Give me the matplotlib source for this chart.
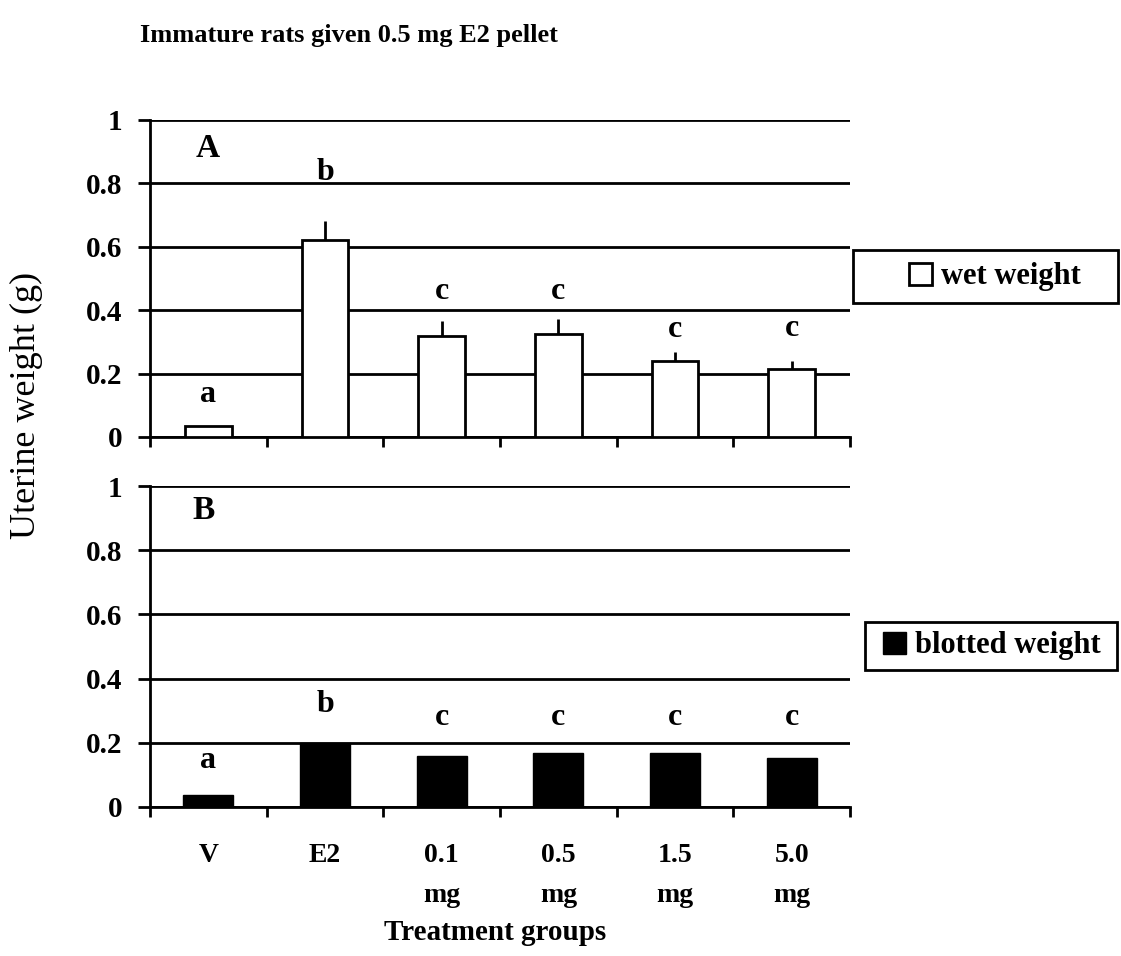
import matplotlib.pyplot as plt
import matplotlib.patches as mpatches
import numpy as np

plt.rcParams['font.family'] = ['Liberation Serif', 'DejaVu Serif']

groups = ['V', 'E2', '0.1\nmg', '0.5\nmg', '1.5\nmg', '5.0\nmg']
wet = [0.035, 0.62, 0.32, 0.325, 0.24, 0.216]
wet_err = [0.0, 0.06, 0.045, 0.047, 0.027, 0.025]
wet_letters = ['a', 'b', 'c', 'c', 'c', 'c']
blotted = [0.037, 0.20, 0.16, 0.168, 0.168, 0.153]
blotted_letters = ['a', 'b', 'c', 'c', 'c', 'c']

# where the significance letters sit (data units)
wet_letter_y = [0.133, 0.835, 0.46, 0.46, 0.34, 0.343]
blotted_letter_y = [0.146, 0.32, 0.28, 0.28, 0.28, 0.28]

fig = plt.figure(figsize=(11.21, 9.56), dpi=100)
axA = fig.add_axes([0.1338, 0.5429, 0.6245, 0.3316])
axB = fig.add_axes([0.1338, 0.1559, 0.6245, 0.3357])

x = np.arange(len(groups)) + 0.5
LW = 2.0


def style(ax):
    ax.set_xlim(0, len(groups))
    ax.set_ylim(0, 1)
    ax.set_yticks([0, 0.2, 0.4, 0.6, 0.8, 1.0])
    ax.set_yticklabels(['0', '0.2', '0.4', '0.6', '0.8', '1'],
                       fontsize=21, fontweight='bold')
    ax.yaxis.grid(True, color='black', linewidth=LW)
    ax.set_axisbelow(True)
    for s in ('top', 'right'):
        ax.spines[s].set_visible(False)
    ax.spines['left'].set_linewidth(LW)
    ax.spines['bottom'].set_linewidth(LW)
    ax.tick_params(axis='y', length=9, width=LW, pad=11)
    ax.set_xticks(np.arange(len(groups) + 1), minor=True)
    ax.tick_params(axis='x', which='minor', length=7, width=LW, direction='out')
    ax.tick_params(axis='x', which='major', length=0)


# panel A: wet weight
axA.bar(x, wet, width=0.4, color='white', edgecolor='black', linewidth=LW,
        yerr=[np.zeros(len(wet)), wet_err], capsize=0,
        error_kw=dict(elinewidth=LW, ecolor='black'), label='wet weight', zorder=3)
style(axA)
axA.set_xticks(x)
axA.set_xticklabels([])
for xi, ly, t in zip(x, wet_letter_y, wet_letters):
    axA.text(xi, ly, t, ha='center', va='center', fontsize=23, fontweight='bold')
axA.text(0.083, 0.91, 'A', transform=axA.transAxes, ha='center', va='center',
         fontsize=24, fontweight='bold')

# panel B: blotted weight
axB.bar(x, blotted, width=0.43, color='black', edgecolor='black', linewidth=1.0,
        label='blotted weight', zorder=3)
style(axB)
axB.set_xticks(x)
axB.set_xticklabels(groups, fontsize=20, fontweight='bold', linespacing=1.8)
axB.tick_params(axis='x', which='major', pad=26)
for xi, ly, t in zip(x, blotted_letter_y, blotted_letters):
    axB.text(xi, ly, t, ha='center', va='center', fontsize=23, fontweight='bold')
axB.text(0.076, 0.925, 'B', transform=axB.transAxes, ha='center', va='center',
         fontsize=24, fontweight='bold')

# legends: content centred in a plain black box beside each panel
for ax, anchor, box in ((axA, (0.8876, 0.7103), (0.761, 0.683, 0.2364, 0.0554)),
                        (axB, (0.885, 0.3243), (0.7716, 0.2992, 0.2248, 0.0502))):
    h, l = ax.get_legend_handles_labels()
    fig.legend(h, l, loc='center', bbox_to_anchor=anchor, frameon=False,
               prop=dict(weight='bold', size=22), handlelength=0.75,
               handleheight=0.75, handletextpad=0.3, borderpad=0)
    fig.patches.append(mpatches.Rectangle(box[:2], box[2], box[3],
                                          transform=fig.transFigure,
                                          facecolor='none', edgecolor='black',
                                          linewidth=LW))

fig.text(0.125, 0.963, 'Immature rats given 0.5 mg E2 pellet', fontsize=19,
         fontweight='bold', ha='left', va='center')
fig.text(0.024, 0.576, 'Uterine weight (g)', fontsize=26, rotation=90,
         ha='center', va='center')
fig.text(0.442, 0.025, 'Treatment groups', fontsize=21, fontweight='bold',
         ha='center', va='center')

fig.savefig('out.png', dpi=100)
